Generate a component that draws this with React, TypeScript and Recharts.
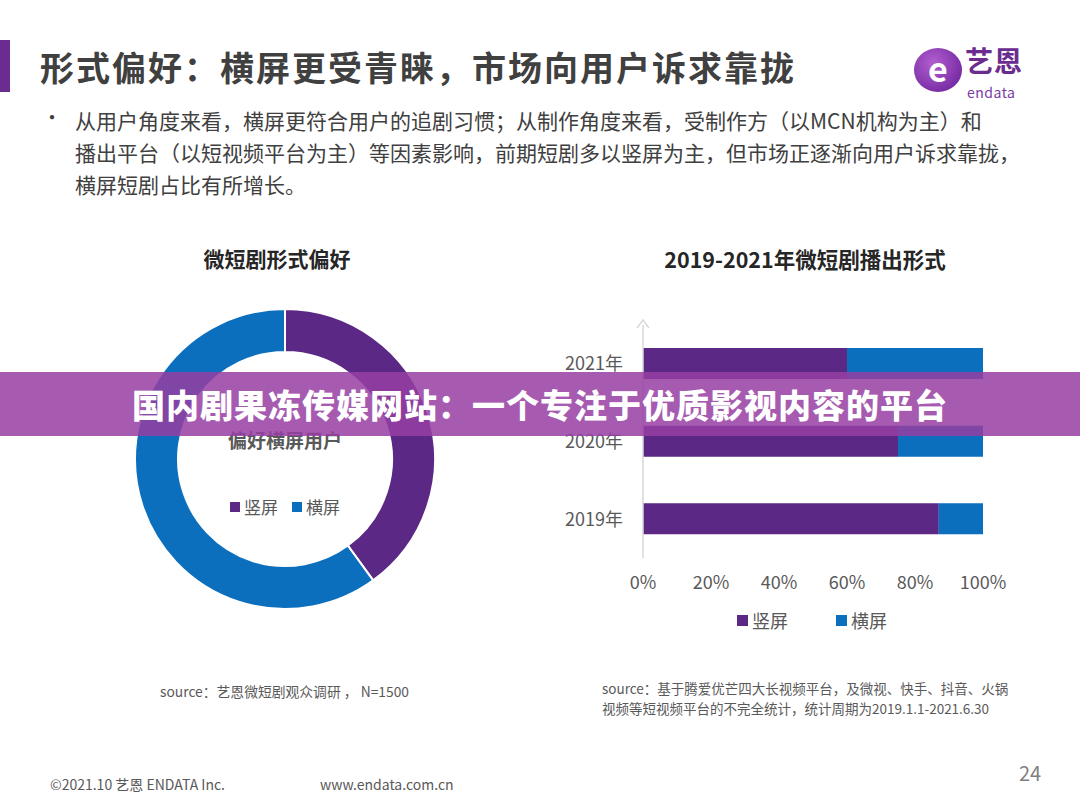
import React from "react";
import { PieChart, Pie, Cell, BarChart, Bar, XAxis, YAxis } from "recharts";

const seriesNames = ["竖屏", "横屏"];
const seriesColors = ["#5b2886", "#0b6fbd"];

const preferenceValues = [40, 60];

const years = ["2021年", "2020年", "2019年"];
const verticalShare = [60, 75, 87];
const horizontalShare = [40, 25, 13];
const xTicks = [0, 20, 40, 60, 80, 100];

const pieData = seriesNames.map((name, i) => ({ name, value: preferenceValues[i] }));
const barData = years.map((year, i) => ({ year, v: verticalShare[i], h: horizontalShare[i] }));

const FONT = '"Noto Sans CJK SC", "Microsoft YaHei", sans-serif';

const abs = (left: number, top: number, extra: React.CSSProperties = {}): React.CSSProperties => ({
  position: "absolute",
  left,
  top,
  whiteSpace: "nowrap",
  ...extra,
});

function LegendItem({ color, label, size, font }: { color: string; label: string; size: number; font: number }) {
  return (
    <span style={{ display: "inline-flex", alignItems: "center" }}>
      <span style={{ width: size, height: size, background: color, display: "inline-block", marginRight: 4 }} />
      <span style={{ fontSize: font, color: "#595959" }}>{label}</span>
    </span>
  );
}

export default function App() {
  return (
    <div
      style={{
        position: "absolute",
        left: 0,
        top: 0,
        width: 1080,
        height: 810,
        background: "#ffffff",
        fontFamily: FONT,
        overflow: "hidden",
      }}
    >
      {/* left accent */}
      <div style={abs(0, 40, { width: 10, height: 52, background: "#6a2c8e" })} />

      {/* title */}
      <div style={abs(40, 44, { fontSize: 34, fontWeight: 700, color: "#404040", letterSpacing: 2, lineHeight: "46px" })}>
        形式偏好：横屏更受青睐，市场向用户诉求靠拢
      </div>

      {/* logo */}
      <div
        style={abs(914, 48, {
          width: 48,
          height: 44,
          borderRadius: "50%",
          background: "radial-gradient(circle at 40% 35%, #b25fd0, #7b2fa6 70%)",
          color: "#fff",
          fontSize: 34,
          fontWeight: 700,
          lineHeight: "40px",
          textAlign: "center",
        })}
      >
        e
      </div>
      <div style={abs(965, 44, { fontSize: 28, fontWeight: 700, color: "#6a2c8e", lineHeight: "32px", letterSpacing: 1 })}>艺恩</div>
      <div style={abs(967, 86, { fontSize: 14, color: "#7b3aa6", lineHeight: "12px", letterSpacing: 0.5 })}>endata</div>

      {/* bullet text */}
      <div style={abs(42, 104, { fontSize: 20, color: "#404040", lineHeight: "26px" })}>•</div>
      <div style={abs(75, 104, { fontSize: 21, color: "#404040", lineHeight: "32px" })}>
        <div>从用户角度来看，横屏更符合用户的追剧习惯；从制作角度来看，受制作方（以MCN机构为主）和</div>
        <div>播出平台（以短视频平台为主）等因素影响，前期短剧多以竖屏为主，但市场正逐渐向用户诉求靠拢，</div>
        <div>横屏短剧占比有所增长。</div>
      </div>

      {/* chart titles */}
      <div style={abs(117, 243, { width: 320, textAlign: "center", fontSize: 21, fontWeight: 700, color: "#262626" })}>
        微短剧形式偏好
      </div>
      <div style={abs(605, 243, { width: 400, textAlign: "center", fontSize: 21.5, fontWeight: 700, color: "#262626" })}>
        2019-2021年微短剧播出形式
      </div>

      {/* donut */}
      <div style={abs(120, 294)}>
        <PieChart width={320} height={320}>
          <Pie
            data={pieData}
            dataKey="value"
            nameKey="name"
            cx={160}
            cy={160}
            innerRadius={107}
            outerRadius={150}
            startAngle={90}
            endAngle={-270}
            stroke="#ffffff"
            strokeWidth={2}
            isAnimationActive={false}
          >
            {pieData.map((d, i) => (
              <Cell key={d.name} fill={seriesColors[i]} />
            ))}
          </Pie>
        </PieChart>
      </div>
      <div style={abs(185, 426, { width: 200, textAlign: "center", fontSize: 19, fontWeight: 700, color: "#595959" })}>
        偏好横屏用户
      </div>
      <div style={abs(185, 494, { width: 200, display: "flex", justifyContent: "center", gap: 14 })}>
        {seriesNames.map((n, i) => (
          <LegendItem key={n} color={seriesColors[i]} label={n} size={10} font={17} />
        ))}
      </div>

      {/* stacked bar */}
      <div style={abs(540, 300)}>
        <BarChart
          width={480}
          height={300}
          data={barData}
          layout="vertical"
          margin={{ top: 25, right: 37, left: 0, bottom: 0 }}
          barSize={31}
        >
          <XAxis
            type="number"
            domain={[0, 100]}
            ticks={xTicks}
            tickFormatter={(v: number) => `${v}%`}
            axisLine={false}
            tickLine={false}
            height={42}
            tick={{ fontSize: 18, fill: "#595959", fontFamily: FONT }}
            tickMargin={12}
          />
          <YAxis
            type="category"
            dataKey="year"
            width={103}
            axisLine={{ stroke: "#d9d9d9", strokeWidth: 1.5 }}
            tickLine={false}
            tick={{ fontSize: 18, fill: "#595959", fontFamily: FONT }}
            tickMargin={14}
          />
          <Bar dataKey="v" stackId="a" fill={seriesColors[0]} isAnimationActive={false} />
          <Bar dataKey="h" stackId="a" fill={seriesColors[1]} isAnimationActive={false} />
        </BarChart>
      </div>
      <svg style={abs(636, 318)} width={14} height={12}>
        <polyline points="1,10 7,2 13,10" fill="none" stroke="#d9d9d9" strokeWidth={1.5} />
      </svg>
      <div style={abs(737, 607, { display: "flex", gap: 48 })}>
        {seriesNames.map((n, i) => (
          <LegendItem key={n} color={seriesColors[i]} label={n} size={11} font={18} />
        ))}
      </div>

      {/* sources */}
      <div style={abs(160, 681, { fontSize: 13.8, color: "#595959" })}>source：艺恩微短剧观众调研 ， N=1500</div>
      <div style={abs(602, 678, { fontSize: 13.5, color: "#595959", lineHeight: "20px" })}>
        <div>source：基于腾爱优芒四大长视频平台，及微视、快手、抖音、火锅</div>
        <div>视频等短视频平台的不完全统计，统计周期为2019.1.1-2021.6.30</div>
      </div>

      {/* footer */}
      <div style={abs(50, 774, { fontSize: 14, color: "#595959" })}>©2021.10 艺恩 ENDATA Inc.</div>
      <div style={abs(320, 774, { fontSize: 14, color: "#595959" })}>www.endata.com.cn</div>
      <div style={abs(1019, 758, { fontSize: 20, color: "#7f7f7f" })}>24</div>

      {/* overlay banner */}
      <div
        style={abs(0, 372, {
          width: 1080,
          height: 64,
          background: "rgba(150, 62, 162, 0.85)",
          display: "flex",
          alignItems: "center",
          justifyContent: "center",
          color: "#ffffff",
          fontSize: 33,
          fontWeight: 900,
          letterSpacing: 1,
        })}
      >
        国内剧果冻传媒网站：一个专注于优质影视内容的平台
      </div>
    </div>
  );
}
